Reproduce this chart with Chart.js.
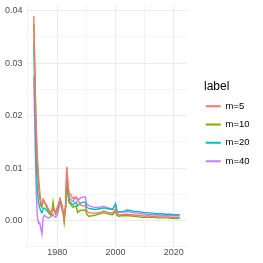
<!DOCTYPE html>
<html lang="en">
<head>
<meta charset="UTF-8">
<title>m lines</title>
<script src="https://cdn.jsdelivr.net/npm/chart.js"></script>
<style>
  html, body { margin: 0; padding: 0; background: #fff; }
  #wrap { width: 263px; height: 263px; }
</style>
</head>
<body>
<div id="wrap"><canvas id="chart" width="263" height="263"></canvas></div>
<script>
// time points (decimal years)
const years = [
  1972, 1972.4, 1972.8, 1973.2, 1973.6, 1974, 1974.4, 1974.8, 1975.2, 1975.6,
  1976, 1976.5, 1977, 1977.5, 1978, 1978.6, 1979, 1979.5, 1980, 1980.5,
  1981, 1981.5, 1982, 1982.4, 1982.9, 1983.3, 1983.7, 1984.1, 1984.5, 1985,
  1985.5, 1986, 1986.5, 1987, 1987.5, 1988, 1988.5, 1989, 1989.6, 1990.2,
  1990.8, 1992, 1993, 1994, 1995, 1996, 1997, 1998, 1999, 2000,
  2000.5, 2001, 2002, 2003, 2004, 2005, 2006, 2007, 2008, 2009,
  2010, 2011, 2012, 2013, 2014, 2015, 2016, 2017, 2018, 2019,
  2020, 2021, 2022
];
const m5 = [
  0.039, 0.026, 0.018, 0.0125, 0.0085, 0.0058, 0.0035, 0.003, 0.004, 0.0035,
  0.0032, 0.0028, 0.0022, 0.0018, 0.0015, 0.0025, 0.0022, 0.0015, 0.0025, 0.0032,
  0.0041, 0.0032, 0.002, 0.0005, 0.003, 0.0102, 0.007, 0.0052, 0.0051, 0.0045,
  0.0042, 0.0044, 0.0045, 0.0038, 0.0035, 0.003, 0.0028, 0.0028, 0.0028, 0.0018,
  0.0015, 0.0014, 0.0014, 0.0015, 0.0016, 0.0018, 0.0016, 0.0015, 0.0014, 0.0022,
  0.0013, 0.0011, 0.0011, 0.0012, 0.0012, 0.0011, 0.0011, 0.001, 0.001, 0.0009,
  0.0008, 0.0009, 0.0008, 0.0008, 0.0008, 0.0007, 0.0007, 0.0007, 0.0007, 0.0006,
  0.0006, 0.0006, 0.0006
];
const m10 = [
  0.0375, 0.028, 0.017, 0.011, 0.007, 0.0045, 0.0028, 0.0025, 0.0039, 0.0036,
  0.003, 0.0025, 0.0018, 0.0012, 0.001, 0.0035, 0.0018, 0.0012, 0.002, 0.003,
  0.0041, 0.003, 0.0015, -0.0004, 0.0025, 0.0075, 0.005, 0.0034, 0.0032, 0.0028,
  0.0025, 0.0027, 0.0028, 0.0015, 0.0018, 0.002, 0.0019, 0.002, 0.002, 0.0012,
  0.0008, 0.0009, 0.001, 0.0012, 0.0013, 0.0015, 0.0013, 0.0012, 0.0011, 0.0017,
  0.001, 0.0008, 0.0009, 0.0009, 0.0009, 0.0009, 0.0008, 0.0008, 0.0007, 0.0006,
  0.0006, 0.0006, 0.0006, 0.0006, 0.0005, 0.0005, 0.0005, 0.0005, 0.0005, 0.0004,
  0.0004, 0.0004, 0.0004
];
const m20 = [
  0.034, 0.022, 0.012, 0.006, 0.0035, 0.0025, 0.0018, 0.0015, 0.0022, 0.0024,
  0.0022, 0.0018, 0.0015, 0.0012, 0.0015, 0.0022, 0.002, 0.0015, 0.0022, 0.003,
  0.004, 0.003, 0.0018, 0.0008, 0.0025, 0.0082, 0.006, 0.0038, 0.0035, 0.0032,
  0.003, 0.0033, 0.0035, 0.0028, 0.003, 0.0033, 0.0034, 0.0035, 0.0035, 0.0025,
  0.0023, 0.0022, 0.0021, 0.0022, 0.0023, 0.0024, 0.0023, 0.0022, 0.0021, 0.0032,
  0.0018, 0.0016, 0.0017, 0.0018, 0.002, 0.0019, 0.0018, 0.0017, 0.0017, 0.0016,
  0.0015, 0.0015, 0.0014, 0.0014, 0.0013, 0.0013, 0.0013, 0.0012, 0.0012, 0.0012,
  0.0011, 0.0011, 0.0011
];
const m40 = [
  0.0275, 0.016, 0.006, 0.0008, -0.0005, -0.0004, -0.0015, -0.0026, 0.0006, 0.001,
  0.0008, 0.0006, 0.0005, 0.0006, 0.0008, 0.0012, 0.0008, 0.0006, 0.001, 0.002,
  0.0035, 0.0025, 0.0015, 0.0012, 0.003, 0.0101, 0.007, 0.0045, 0.0041, 0.0038,
  0.0036, 0.0042, 0.0044, 0.0042, 0.004, 0.0043, 0.0044, 0.0045, 0.0045, 0.003,
  0.0029, 0.0026, 0.0025, 0.0025, 0.0026, 0.0027, 0.0025, 0.0023, 0.0022, 0.003,
  0.0016, 0.0015, 0.0016, 0.0016, 0.0017, 0.0016, 0.0015, 0.0014, 0.0014, 0.0013,
  0.0012, 0.0012, 0.0011, 0.0011, 0.0011, 0.001, 0.001, 0.001, 0.0009, 0.0009,
  0.0009, 0.0009, 0.0009
];
const seriesNames = ["m=5", "m=10", "m=20", "m=40"];
const seriesColors = ["#F8766D", "#7CAE00", "#00BFC4", "#C77CFF"];
const legendTitle = "label";
const xTicks = [1970, 1980, 1990, 2000, 2010, 2020];
const xLabeled = [1980, 2000, 2020];
const yTicks = [-0.005, 0, 0.005, 0.01, 0.015, 0.02, 0.025, 0.03, 0.035, 0.04];
const yLabeled = [0, 0.01, 0.02, 0.03, 0.04];

const allSeries = [m5, m10, m20, m40];
const isLabeled = (list, v) => list.some(t => Math.abs(t - v) < 1e-9);
const FONT = "Liberation Sans, Arial, sans-serif";

const datasets = allSeries.map((vals, i) => ({
  label: seriesNames[i],
  data: vals.map((v, k) => ({ x: years[k], y: v })),
  borderColor: seriesColors[i],
  backgroundColor: seriesColors[i],
  borderWidth: 1.4,
  pointRadius: 0,
  tension: 0
}));

const gridColor = (list) => (ctx) =>
  isLabeled(list, ctx.tick.value) ? "#EBEBEB" : "#F4F4F4";

// ggplot-style legend: gap to the panel; the title keeps its space in the
// layout but is painted by hand so it can sit just left of the keys
const LEGEND_W = 76, LEGEND_DX = 10, LEGEND_DY = -4.3, TITLE_X = 7, TITLE_SIZE = 12;
const legendNudge = {
  id: "legendNudge",
  afterInit(chart) {
    const lg = chart.legend;
    if (!lg) return;
    const fit = lg.fit.bind(lg);
    lg.fit = function () { fit(); this.width = LEGEND_W; };
    const draw = lg.draw.bind(lg);
    lg.draw = function () {
      const c = this.ctx;
      c.save();
      c.translate(LEGEND_DX, LEGEND_DY);
      draw();
      const first = this.legendHitBoxes && this.legendHitBoxes[0];
      if (first) {
        const pad = this.options.labels.padding;
        c.fillStyle = "#000";
        c.font = TITLE_SIZE + "px " + FONT;
        c.textAlign = "left";
        c.textBaseline = "middle";
        c.fillText(legendTitle, this.left + TITLE_X, first.top - pad - TITLE_SIZE / 2);
      }
      c.restore();
    };
  }
};

new Chart(document.getElementById("chart"), {
  type: "line",
  data: { datasets },
  plugins: [legendNudge],
  options: {
    responsive: false,
    animation: false,
    layout: { padding: { left: 1, right: 0, top: 5, bottom: 4 } },
    plugins: {
      tooltip: { enabled: false },
      legend: {
        position: "right",
        align: "center",
        title: {
          display: true,
          text: legendTitle,
          position: "start",
          color: "rgba(0,0,0,0)",
          font: { family: FONT, size: TITLE_SIZE, lineHeight: 1.0 },
          padding: { top: 0, bottom: 0 }
        },
        labels: {
          boxWidth: 15,
          boxHeight: 2,
          padding: 8.8,
          color: "#000",
          font: { family: FONT, size: 9.5 },
          generateLabels: (chart) => chart.data.datasets.map((d, i) => ({
            text: d.label,
            fillStyle: d.borderColor,
            strokeStyle: d.borderColor,
            fontColor: "#000",
            lineWidth: 0,
            datasetIndex: i
          }))
        }
      }
    },
    scales: {
      x: {
        type: "linear",
        min: 1969.5,
        max: 2024.5,
        afterBuildTicks: (s) => { s.ticks = xTicks.map(v => ({ value: v })); },
        afterFit: (s) => { s.paddingLeft = 0; s.paddingRight = 0; },
        grid: { color: gridColor(xLabeled), lineWidth: 1, drawTicks: false },
        border: { display: false },
        ticks: {
          padding: 1,
          color: "#4D4D4D",
          font: { family: FONT, size: 9 },
          maxRotation: 0,
          autoSkip: false,
          callback: (v) => isLabeled(xLabeled, v) ? String(v) : ""
        }
      },
      y: {
        min: -0.0049,
        max: 0.0411,
        afterBuildTicks: (s) => { s.ticks = yTicks.map(v => ({ value: v })); },
        afterFit: (s) => { s.paddingTop = 0; s.paddingBottom = 0; },
        grid: { color: gridColor(yLabeled), lineWidth: 1, drawTicks: false },
        border: { display: false },
        ticks: {
          padding: 4,
          color: "#4D4D4D",
          font: { family: FONT, size: 9 },
          autoSkip: false,
          callback: (v) => isLabeled(yLabeled, v) ? v.toFixed(2) : ""
        }
      }
    }
  }
});
</script>
</body>
</html>
